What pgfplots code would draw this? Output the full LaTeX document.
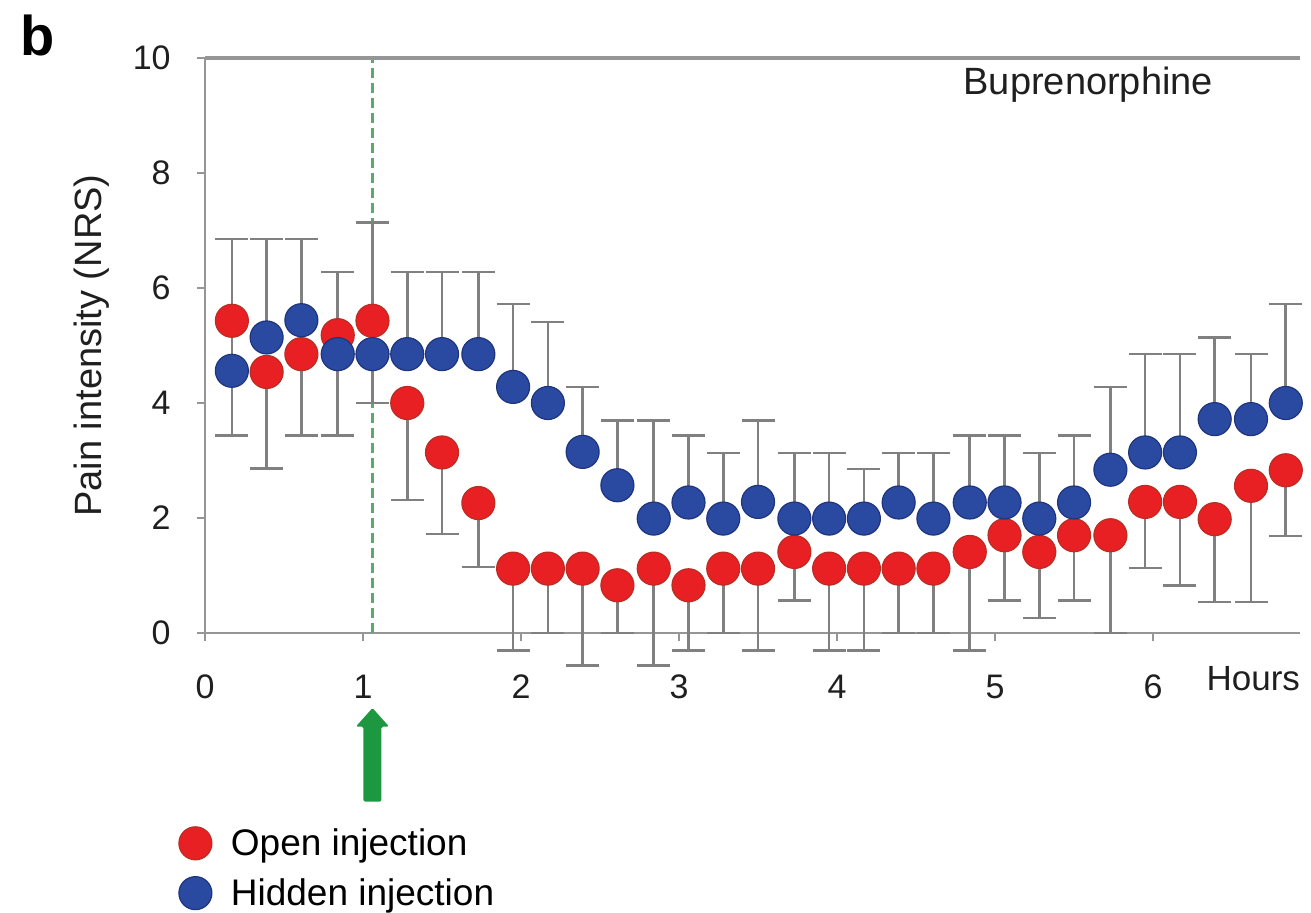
\documentclass[border=0pt]{standalone}
\usepackage{pgfplots}
\pgfplotsset{compat=1.18}
\usepackage{pgfplotstable}
\usepackage{fontspec}
\setmainfont{Liberation Sans}

\definecolor{openred}{RGB}{232,32,36}
\definecolor{openedge}{RGB}{185,45,35}
\definecolor{hiddenblue}{RGB}{42,74,162}
\definecolor{hiddenedge}{RGB}{30,52,125}
\definecolor{framegray}{RGB}{150,150,150}
\definecolor{bargray}{RGB}{128,128,128}
\definecolor{injgreen}{RGB}{30,152,64}
\definecolor{dashgreen}{RGB}{90,170,110}

% time (h), open-injection mean and lower bound, hidden-injection mean and upper bound
\pgfplotstableread{
x     red   rlo    blue  bhi
0.17  5.43  3.43   4.56  6.85
0.39  4.54  2.86   5.14  6.85
0.61  4.85  3.43   5.44  6.85
0.84  5.18  3.43   4.85  6.28
1.06  5.43  4.00   4.85  7.14
1.28  4.00  2.31   4.85  6.28
1.50  3.14  1.72   4.85  6.28
1.73  2.26  1.15   4.85  6.28
1.95  1.12  -0.30  4.28  5.72
2.17  1.12  0.00   4.00  5.41
2.39  1.12  -0.57  3.15  4.28
2.61  0.83  0.00   2.57  3.70
2.84  1.12  -0.57  1.99  3.70
3.06  0.83  -0.30  2.27  3.43
3.28  1.12  0.00   1.99  3.13
3.50  1.12  -0.30  2.28  3.70
3.73  1.41  0.57   1.99  3.13
3.95  1.12  -0.30  1.99  3.13
4.17  1.12  -0.30  1.99  2.85
4.39  1.12  0.00   2.27  3.13
4.61  1.12  0.00   1.99  3.13
4.84  1.41  -0.30  2.27  3.43
5.06  1.70  0.57   2.27  3.43
5.28  1.41  0.26   1.99  3.13
5.50  1.70  0.57   2.27  3.43
5.73  1.70  0.00   2.84  4.28
5.95  2.28  1.13   3.14  4.85
6.17  2.28  0.83   3.14  4.85
6.39  1.98  0.54   3.72  5.14
6.62  2.56  0.54   3.72  4.85
6.84  2.83  1.69   4.00  5.72
}\nrsdata

\begin{document}
\begin{tikzpicture}
\useasboundingbox (-102.5pt,-139.5pt) rectangle (553pt,316.5pt);
\begin{axis}[
  scale only axis,
  width=547.5pt, height=287.5pt,
  xmin=0, xmax=6.93, ymin=0, ymax=10,
  clip=false,
  axis x line*=bottom, axis y line*=left,
  axis line style={-, framegray, line width=1.3pt},
  xtick={0,1,...,6}, ytick={0,2,...,10},
  tick align=outside, major tick length=4pt,
  tick style={framegray, line width=1.1pt},
  /pgf/number format/assume math mode=true,
  every tick label/.append style={font=\fontsize{17}{20}\selectfont, text=black!88},
  xticklabel style={anchor=base, yshift=-28.5pt},
  yticklabel style={anchor=east, inner sep=0pt, xshift=-13pt},
  ylabel={Pain intensity (NRS)},
  y label style={at={(axis description cs:-0.1032,0.5)}, anchor=center,
                 font=\fontsize{19}{22}\selectfont, text=black!88},
  legend style={at={(axis description cs:0,0)}, anchor=north west,
                xshift=-13.25pt, yshift=-96.5pt,
                draw=none, fill=none, inner sep=0pt,
                font=\fontsize{18.5}{21}\selectfont, row sep=8pt,
                nodes={inner ysep=1pt}},
  legend cell align=left,
  legend image code/.code={%
    \path[draw=none, fill=none] (0pt,-1pt) rectangle (24pt,1pt);
    \draw[#1] plot coordinates {(8.25pt,0pt)};},
]
% dashed line marking the injection time
\addplot[dashgreen, dashed, dash pattern=on 5pt off 2.5pt, line width=1.2pt, forget plot]
  coordinates {(1.06,0) (1.06,10)};
% error bars: downward for open injection, upward for hidden injection
\addplot[only marks, mark=none, forget plot,
  error bars/.cd, y dir=minus, y explicit, error mark=|,
  error bar style={bargray, line width=1.3pt},
  error mark options={bargray, line width=1.3pt, mark size=8.25pt}]
  table[x=x, y=red, y error minus expr=\thisrow{red}-\thisrow{rlo}] {\nrsdata};
\addplot[only marks, mark=none, forget plot,
  error bars/.cd, y dir=plus, y explicit, error mark=|,
  error bar style={bargray, line width=1.3pt},
  error mark options={bargray, line width=1.3pt, mark size=8.25pt}]
  table[x=x, y=blue, y error plus expr=\thisrow{bhi}-\thisrow{blue}] {\nrsdata};
% means
\addplot[only marks, mark=*, mark size=8.25pt,
  mark options={fill=openred, draw=openedge, line width=0.6pt}]
  table[x=x, y=red] {\nrsdata};
\addlegendentry{Open injection}
\addplot[only marks, mark=*, mark size=8.25pt,
  mark options={fill=hiddenblue, draw=hiddenedge, line width=0.6pt}]
  table[x=x, y=blue] {\nrsdata};
\addlegendentry{Hidden injection}
% top frame line
\draw[framegray, line width=1.6pt] (rel axis cs:0,1) -- (rel axis cs:1,1);
\node[anchor=base, font=\fontsize{19}{22}\selectfont, text=black!88]
  at (axis cs:5.59,9.36) {Buprenorphine};
\coordinate (inj) at (axis cs:1.06,0);
\end{axis}
% time axis unit
\node[anchor=base east, font=\fontsize{17.5}{20}\selectfont, text=black!88]
  at (551pt,-28.5pt) {Hours};
% injection arrow
\fill[injgreen, rounded corners=0.8pt]
  ([shift={(-4.5pt,-84.3pt)}]inj) -- ([shift={(4.5pt,-84.3pt)}]inj)
  -- ([shift={(4.5pt,-46.8pt)}]inj) -- ([shift={(8.3pt,-46.8pt)}]inj)
  -- ([shift={(0pt,-37.5pt)}]inj) -- ([shift={(-8.3pt,-46.8pt)}]inj)
  -- ([shift={(-4.5pt,-46.8pt)}]inj) -- cycle;
% panel letter
\node[font=\bfseries\fontsize{28}{30}\selectfont] at (-83.5pt,299pt) {b};
\end{tikzpicture}
\end{document}
